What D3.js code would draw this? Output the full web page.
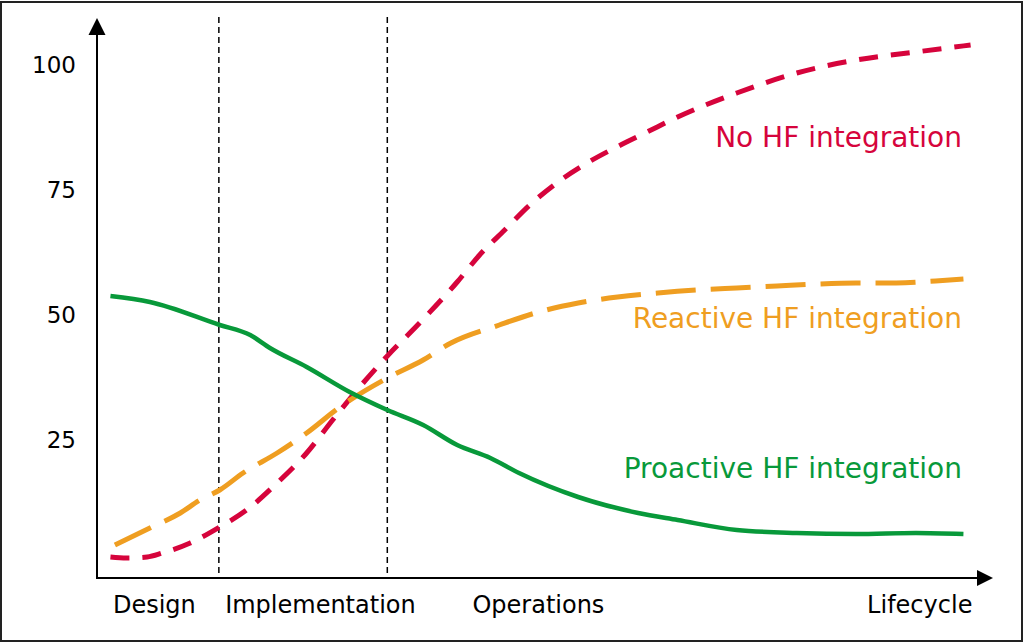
<!DOCTYPE html>
<html>
<head>
<meta charset="utf-8">
<script src="https://cdn.jsdelivr.net/npm/d3@7"></script>
<style>
  html, body { margin: 0; padding: 0; background: #fff; }
  svg { display: block; }
  text { font-family: "DejaVu Sans", Verdana, sans-serif; }
</style>
</head>
<body>
<svg id="chart" width="1024" height="643"></svg>
<script>
// ---- data (x = position along lifecycle 0..100, y = value) ----
const seriesNames = ["No HF integration", "Reactive HF integration", "Proactive HF integration"];

const noHF = [
  [1.5, 1.0], [3.3, 0.8], [5.6, 1.0], [7.3, 1.8], [10.4, 3.8], [13.7, 7.0],
  [16.7, 10.4], [20.1, 15.8], [23.4, 21.8], [26.3, 28.4], [29.7, 35.8],
  [32.4, 41.2], [36.0, 47.8], [40.2, 56.0], [42.7, 61.4], [45.5, 66.4],
  [48.3, 71.4], [51.3, 75.8], [54.7, 79.8], [58.0, 83.0], [61.4, 86.0],
  [64.8, 89.0], [71.4, 93.8], [78.1, 97.8], [84.7, 100.4], [91.4, 102.0], [97.5, 103.4]
];

const reactiveHF = [
  [2.0, 3.4], [5.9, 6.8], [9.3, 9.8], [11.5, 12.4], [13.7, 14.4], [16.3, 17.8],
  [20.1, 21.8], [23.4, 25.8], [27.1, 31.0], [32.4, 36.8], [36.4, 40.4],
  [39.5, 43.8], [44.9, 47.4], [49.3, 50.0], [53.7, 51.8], [58.1, 53.0],
  [62.6, 53.8], [67.0, 54.4], [71.4, 54.8], [75.9, 55.2], [80.4, 55.6],
  [84.7, 55.8], [89.2, 55.8], [93.6, 56.2], [96.7, 56.6]
];

const proactiveHF = [
  [1.5, 53.2], [5.9, 52.0], [13.7, 47.4], [17.1, 45.4], [19.3, 42.8],
  [23.4, 39.0], [28.2, 34.0], [32.4, 30.4], [36.4, 27.4], [40.2, 23.4],
  [43.9, 20.8], [47.1, 17.8], [53.7, 13.0], [60.4, 9.8], [64.8, 8.4],
  [71.4, 6.4], [78.1, 5.8], [84.7, 5.6], [91.4, 5.8], [96.7, 5.6]
];

const yTicks = [25, 50, 75, 100];
const phaseBoundaries = [13.6, 32.4];
const phaseLabels = ["Design", "Implementation", "Operations", "Lifecycle"];
const phaseLabelX = [6.4, 14.3, 41.9, 97.7];

// ---- layout ----
const W = 1024, H = 643;
const svg = d3.select("#chart");
const x = d3.scaleLinear().domain([0, 100]).range([97, 993]);
const y = d3.scaleLinear().domain([0, 100]).range([562, 62]);
const axisY = 578;      // x-axis line position
const axisTop = 18;     // y-axis arrow tip

// frame
svg.append("rect").attr("x", 1).attr("y", 2).attr("width", W - 3).attr("height", H - 4)
  .attr("fill", "#fff").attr("stroke", "#222").attr("stroke-width", 2);

// phase boundary lines
svg.selectAll("line.phase").data(phaseBoundaries).join("line")
  .attr("class", "phase")
  .attr("x1", d => x(d)).attr("x2", d => x(d))
  .attr("y1", 17).attr("y2", axisY)
  .attr("stroke", "#000").attr("stroke-width", 1.5)
  .attr("stroke-dasharray", "6,4");

// y axis tick labels via d3 axis
const yAxis = d3.axisLeft(y).tickValues(yTicks).tickSize(0).tickPadding(21);
const gy = svg.append("g").attr("transform", `translate(${x(0)},0)`).call(yAxis);
gy.select(".domain").remove();
gy.selectAll("text").attr("font-size", 23).attr("font-family", "DejaVu Sans, Verdana, sans-serif")
  .attr("fill", "#000").attr("dy", "0.45em");

// axis lines with arrows
svg.append("line").attr("x1", x(0)).attr("x2", x(0)).attr("y1", axisTop + 14).attr("y2", axisY + 1)
  .attr("stroke", "#000").attr("stroke-width", 2);
svg.append("path")
  .attr("d", `M${x(0)},${axisTop} L${x(0) - 8.5},${axisTop + 17} L${x(0) + 8.5},${axisTop + 17} Z`)
  .attr("fill", "#000");
svg.append("line").attr("x1", x(0) - 1).attr("x2", x(100) - 14).attr("y1", axisY).attr("y2", axisY)
  .attr("stroke", "#000").attr("stroke-width", 2);
svg.append("path")
  .attr("d", `M${x(100)},${axisY} L${x(100) - 16},${axisY - 8} L${x(100) - 16},${axisY + 8} Z`)
  .attr("fill", "#000");

// x labels
svg.selectAll("text.phase").data(phaseLabels).join("text")
  .attr("class", "phase")
  .attr("x", (d, i) => x(phaseLabelX[i]))
  .attr("y", 613)
  .attr("text-anchor", (d, i) => i === 0 ? "middle" : (i === 3 ? "end" : "start"))
  .attr("font-size", 24)
  .attr("fill", "#000")
  .text(d => d);

// lines
const line = d3.line().x(d => x(d[0])).y(d => y(d[1])).curve(d3.curveMonotoneX);
const seriesData = [noHF, reactiveHF, proactiveHF];
const colors = ["#d6043c", "#ef9e21", "#08993a"];
const dashes = ["19,13", "40,15", null];
const widths = [5, 5, 4.5];

svg.selectAll("path.series").data(seriesData).join("path")
  .attr("class", "series")
  .attr("d", line)
  .attr("fill", "none")
  .attr("stroke", (d, i) => colors[i])
  .attr("stroke-width", (d, i) => widths[i])
  .attr("stroke-dasharray", (d, i) => dashes[i]);

// series labels
const labelBaseline = [147, 328, 478];
svg.selectAll("text.series").data(seriesNames).join("text")
  .attr("class", "series")
  .attr("x", 962)
  .attr("y", (d, i) => labelBaseline[i])
  .attr("text-anchor", "end")
  .attr("font-size", 28)
  .attr("fill", (d, i) => colors[i])
  .text(d => d);
</script>
</body>
</html>
